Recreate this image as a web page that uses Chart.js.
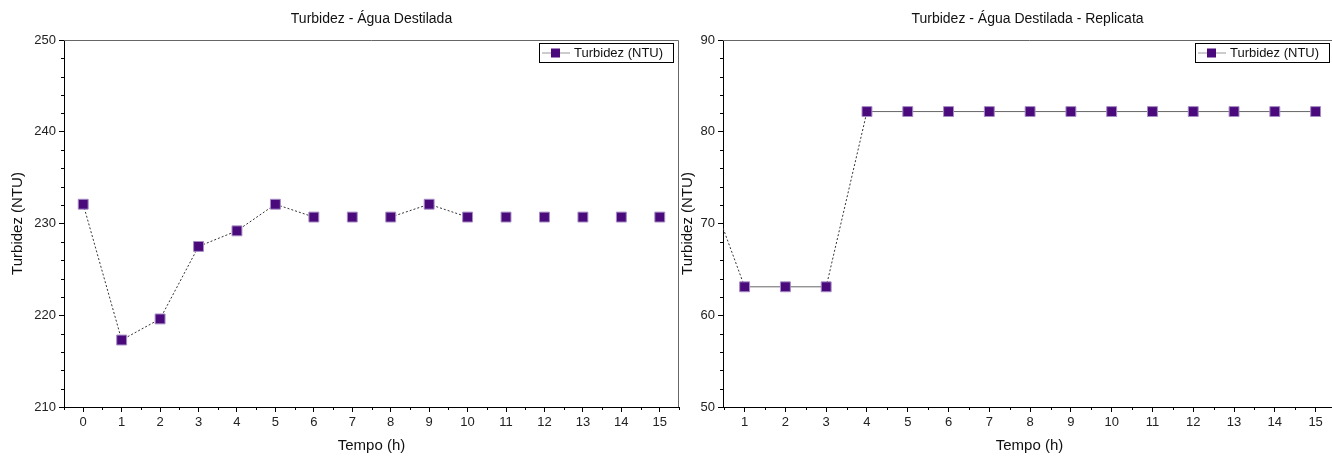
<!DOCTYPE html>
<html>
<head>
<meta charset="utf-8">
<script src="https://cdn.jsdelivr.net/npm/chart.js@4/dist/chart.umd.min.js"></script>
<style>
  html, body { margin: 0; padding: 0; background: #fff; overflow: hidden; }
  #wrap { position: relative; width: 1332px; height: 456px; overflow: hidden; }
  #c1 { position: absolute; left: 0; top: 0; }
  #c2 { position: absolute; left: 670px; top: 0; }
</style>
</head>
<body>
<div id="wrap">
  <canvas id="c1" width="687" height="456"></canvas>
  <canvas id="c2" width="674" height="456"></canvas>
</div>
<script>
// dados
const horas = [0, 1, 2, 3, 4, 5, 6, 7, 8, 9, 10, 11, 12, 13, 14, 15];
const turbidez1 = [232.1, 217.3, 219.6, 227.5, 229.2, 232.1, 230.7, 230.7, 230.7, 232.1, 230.7, 230.7, 230.7, 230.7, 230.7, 230.7];
const turbidez2 = [75.2, 63.1, 63.1, 63.1, 82.2, 82.2, 82.2, 82.2, 82.2, 82.2, 82.2, 82.2, 82.2, 82.2, 82.2, 82.2];
const xTicks1 = [0, 1, 2, 3, 4, 5, 6, 7, 8, 9, 10, 11, 12, 13, 14, 15];
const xTicks2 = [1, 2, 3, 4, 5, 6, 7, 8, 9, 10, 11, 12, 13, 14, 15];
const yTicks1 = [210, 220, 230, 240, 250];
const yTicks2 = [50, 60, 70, 80, 90];
const titulo1 = 'Turbidez - Água Destilada';
const titulo2 = 'Turbidez - Água Destilada - Replicata';
const serieNome = 'Turbidez (NTU)';

const FONTE = '"Liberation Sans", Arial, sans-serif';
const COR_PONTO = '#4a0a7c';

// titulo, legenda, moldura e ticks menores
const decorPlugin = {
  id: 'decor',
  afterDraw(chart, args, opts) {
    const ctx = chart.ctx;
    const a = chart.chartArea;
    const xs = chart.scales.x, ys = chart.scales.y;
    const direita = Math.min(a.right, opts.visibleRight);
    ctx.save();

    // moldura superior e direita
    ctx.strokeStyle = '#666';
    ctx.lineWidth = 1;
    ctx.beginPath();
    ctx.moveTo(a.left, a.top + 0.5);
    ctx.lineTo(a.right - 0.5, a.top + 0.5);
    ctx.lineTo(a.right - 0.5, a.bottom);
    ctx.stroke();

    // ticks menores
    ctx.strokeStyle = '#000';
    ctx.beginPath();
    for (let v = Math.ceil(xs.min * 2) / 2; v <= xs.max; v += 0.5) {
      if (Number.isInteger(v)) continue;
      const px = Math.round(xs.getPixelForValue(v)) + 0.5;
      ctx.moveTo(px, a.bottom);
      ctx.lineTo(px, a.bottom + 3);
    }
    for (let v = ys.min; v <= ys.max; v += 2) {
      if (v % 10 === 0) continue;
      const py = Math.round(ys.getPixelForValue(v)) + 0.5;
      ctx.moveTo(a.left, py);
      ctx.lineTo(a.left - 3, py);
    }
    ctx.stroke();

    // titulo
    ctx.fillStyle = '#111';
    ctx.font = '14px ' + FONTE;
    ctx.textAlign = 'center';
    ctx.textBaseline = 'middle';
    ctx.fillText(opts.title, (a.left + direita) / 2, 19);

    // legenda
    const w = 134, h = 19;
    const bx = direita - opts.legendOffset - w;
    const by = a.top + 3;
    ctx.fillStyle = '#fff';
    ctx.fillRect(bx, by, w, h);
    ctx.strokeStyle = '#000';
    ctx.strokeRect(bx + 0.5, by + 0.5, w, h);
    const cy = by + h / 2 + 0.5;
    ctx.strokeStyle = '#999';
    ctx.beginPath();
    ctx.moveTo(bx + 3, cy);
    ctx.lineTo(bx + 31, cy);
    ctx.stroke();
    ctx.fillStyle = COR_PONTO;
    ctx.fillRect(bx + 12, cy - 4.5, 9, 9);
    ctx.fillStyle = '#111';
    ctx.font = '13px ' + FONTE;
    ctx.textAlign = 'left';
    ctx.fillText(serieNome, bx + 35, cy);

    ctx.restore();
  }
};

function criarGrafico(id, valores, xTicks, yTicks, xMin, xMax, yWidth, titulo, horizontalSolido, visibleRight, legendOffset) {
  const pontos = horas.map((h, i) => ({ x: h, y: valores[i] }));
  return new Chart(document.getElementById(id), {
    type: 'line',
    data: {
      datasets: [{
        label: serieNome,
        data: pontos,
        borderColor: '#333',
        borderWidth: 1,
        borderDash: [2, 2],
        pointStyle: 'rect',
        pointRadius: 7,
        pointBorderWidth: 1,
        pointBackgroundColor: COR_PONTO,
        pointBorderColor: '#a68cc4',
        tension: 0,
        segment: {
          borderColor: ctx => {
            if (ctx.p0.parsed.y === ctx.p1.parsed.y) return horizontalSolido ? '#666' : 'rgba(0,0,0,0)';
            return '#333';
          },
          borderDash: ctx => (ctx.p0.parsed.y === ctx.p1.parsed.y && horizontalSolido) ? [] : [2, 2]
        }
      }]
    },
    options: {
      responsive: false,
      animation: false,
      layout: { padding: { top: 40, left: 0, right: 0, bottom: 0 } },
      plugins: {
        legend: { display: false },
        tooltip: { enabled: false },
        decor: { title: titulo, visibleRight: visibleRight, legendOffset: legendOffset }
      },
      scales: {
        x: {
          type: 'linear',
          min: xMin,
          max: xMax,
          afterFit: s => { s.height = 49; },
          afterBuildTicks: s => { s.ticks = xTicks.map(v => ({ value: v })); },
          ticks: { color: '#222', font: { family: FONTE, size: 13 }, padding: 3, maxRotation: 0, autoSkip: false },
          grid: { drawOnChartArea: false, drawTicks: true, tickLength: 5, tickColor: '#000' },
          border: { color: '#000', width: 1 },
          title: { display: true, text: 'Tempo (h)', color: '#111', font: { family: FONTE, size: 15 }, padding: { top: 0, bottom: 1 } }
        },
        y: {
          min: yTicks[0],
          max: yTicks[yTicks.length - 1],
          afterFit: s => { s.width = yWidth; },
          afterBuildTicks: s => { s.ticks = yTicks.map(v => ({ value: v })); },
          ticks: { color: '#222', font: { family: FONTE, size: 13 }, padding: 3 },
          grid: { drawOnChartArea: false, drawTicks: true, tickLength: 5, tickColor: '#000' },
          border: { color: '#000', width: 1 },
          title: { display: true, text: 'Turbidez (NTU)', color: '#111', font: { family: FONTE, size: 15 }, padding: { top: 9, bottom: 0 } }
        }
      }
    },
    plugins: [decorPlugin]
  });
}

criarGrafico('c1', turbidez1, xTicks1, yTicks1, -0.5, 15.5, 64, titulo1, false, 9999, 6);
criarGrafico('c2', turbidez2, xTicks2, yTicks2, 0.47, 15.5, 53, titulo2, true, 1332 - 670, 3);
</script>
</body>
</html>
